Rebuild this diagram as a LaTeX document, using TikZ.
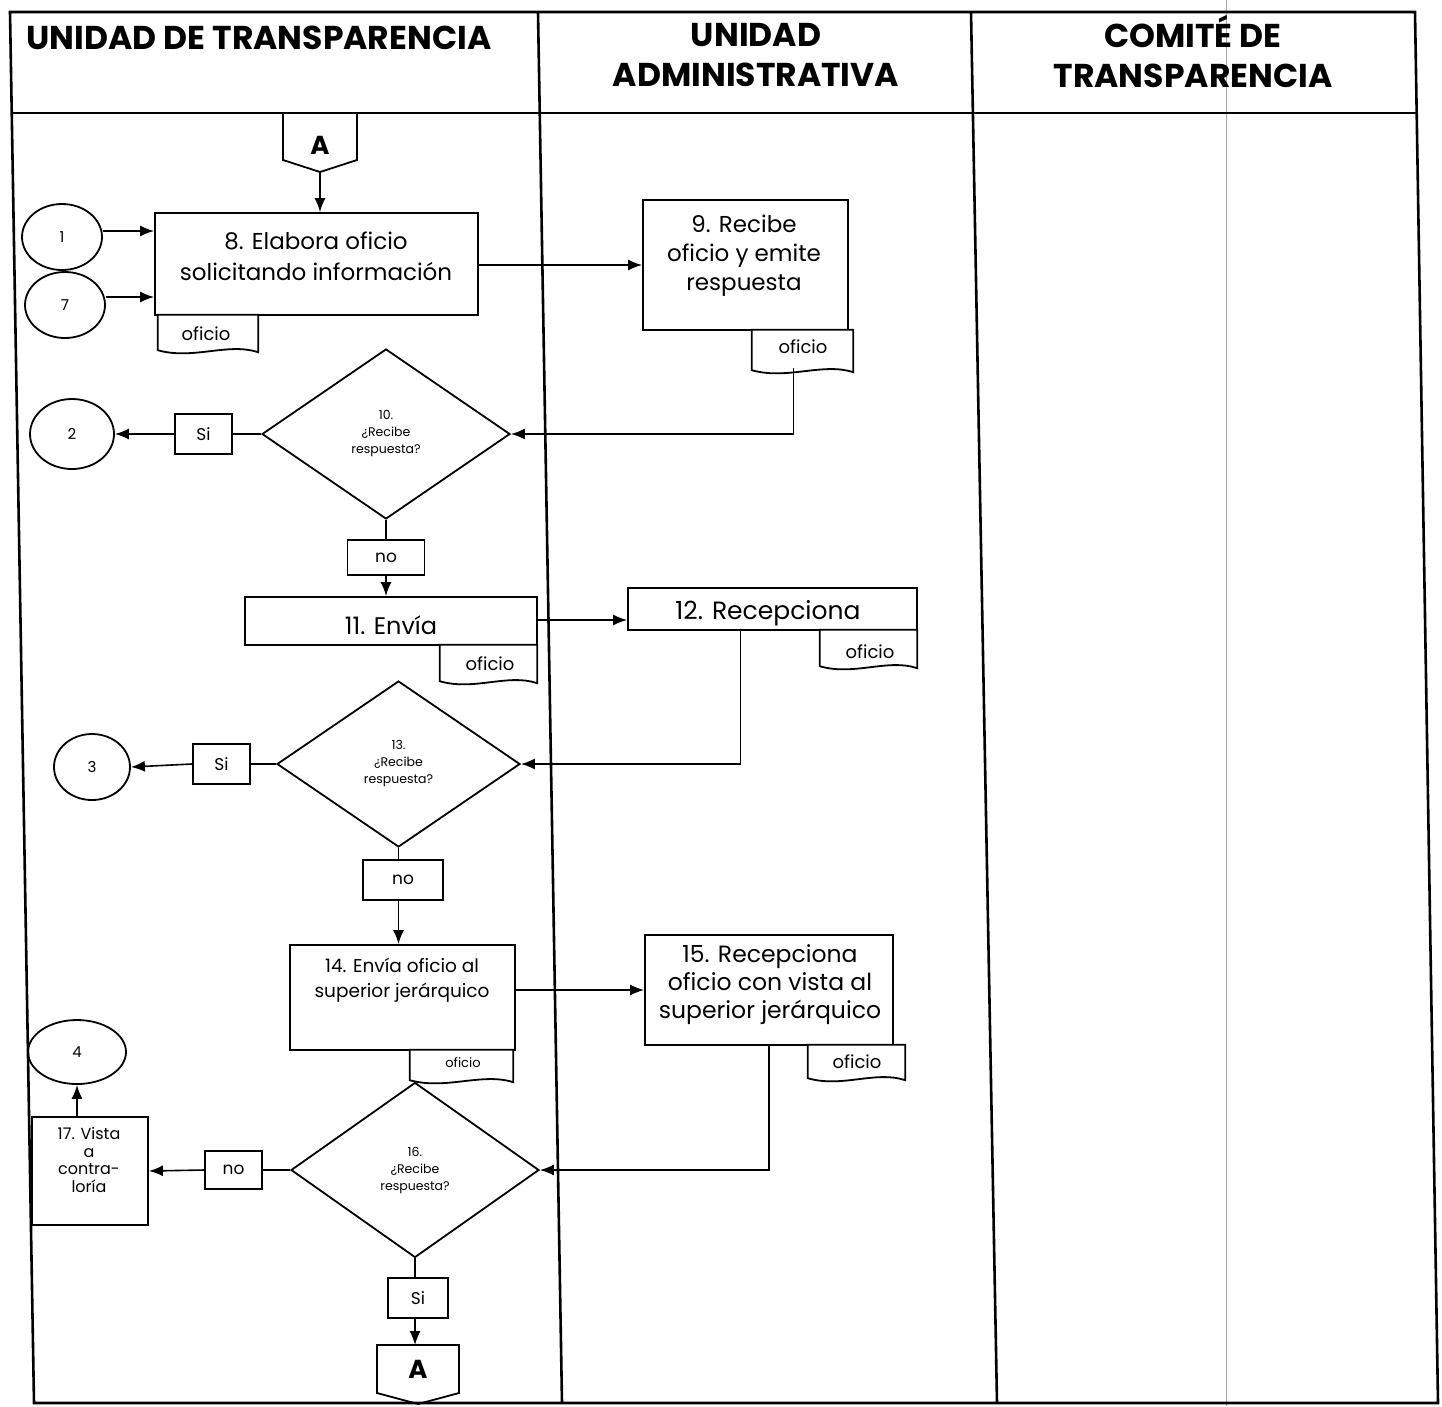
\documentclass[tikz,border=0pt]{standalone}
\usepackage{fontspec}
\setmainfont{Poppins}
\usetikzlibrary{arrows.meta,shapes.geometric,calc}

\begin{document}
\begin{tikzpicture}[x=1pt,y=-1pt,
  frame/.style={line width=2.6pt},
  box/.style={draw,line width=1.8pt,inner sep=0pt},
  txt/.style={inner sep=0pt,align=center,font=\fontsize{23}{29}\selectfont},
  small/.style={draw,line width=1.8pt,inner sep=0pt,font=\fontsize{17}{18}\selectfont},
  dec/.style={diamond,draw,line width=1.8pt,inner sep=0pt,align=center,font=\fontsize{12.5}{17}\selectfont},
  conn/.style={ellipse,draw,line width=1.8pt,inner sep=0pt,font=\fontsize{15}{16}\selectfont},
  docnode/.style={inner sep=0pt,font=\fontsize{18}{20}\selectfont},
  line/.style={line width=1.6pt},
  arr/.style={line width=1.6pt,-{Latex[length=14pt,width=11pt]}},
  head/.style={inner sep=0pt,align=center,font=\fontsize{33}{40}\selectfont\bfseries},
  offpage/.style={font=\fontsize{26}{28}\selectfont\bfseries}
]
\useasboundingbox (0,0) rectangle (1442,1406);
\fill[white] (0,0) rectangle (1442,1406);

% document symbol: a box with a wavy lower edge
\newcommand\docsym[2]{%
  \draw[line width=1.8pt,fill=white] (#1.north west) -- (#1.north east) -- (#1.south east)
    .. controls ($(#1.south east)+(-0.3*#2,-10)$) and ($(#1.south west)+(0.35*#2,8)$) .. ($(#1.south west)+(0,-2)$)
    -- cycle;}

% ---------------- swimlane frame ----------------
\draw[gray!70,line width=1pt] (1226,0) -- (1226,1406);
\draw[frame] (10,12) -- (1415,12) -- (1438,1403) -- (34,1403) -- cycle;
\draw[frame] (12,113) -- (1417,113);
\draw[frame] (538,12) -- (562,1403);
\draw[frame] (971,12) -- (997,1403);

\node[head] (h1) at (259,38) {UNIDAD DE TRANSPARENCIA};
\node[head] (h2) at (756,55) {UNIDAD\\ADMINISTRATIVA};
\node[head] (h3) at (1193,52) {COMITÉ DE\\TRANSPARENCIA};

% ---------------- off-page connector A (top) ----------------
\coordinate (atip) at (320,172);
\draw[line width=1.8pt] (283,113) -- (283,160) -- (atip) -- (357,160) -- (357,113);
\node[offpage] (atop) at (320,145) {A};

% ---------------- step 8 ----------------
\node[box,minimum width=323,minimum height=102] (b8) at (316.5,264) {};
\node[txt,font=\fontsize{23}{31}\selectfont] (t8) at (316,256) {8. Elabora oficio\\solicitando información};
\node[docnode,minimum width=100,minimum height=37] (d8) at (208,333.5) {};
\docsym{d8}{100}
\node[docnode] (o8) at (206,334) {oficio};
\draw[arr] (atip) -- (atip |- b8.north);

\node[conn,minimum width=80,minimum height=66] (c1) at (62,237) {1};
\node[conn,minimum width=80,minimum height=66] (c7) at (65,305) {7};
\draw[arr] (c1.east |- 0,231) -- (b8.west |- 0,231);
\draw[arr] (c7.east |- 0,297) -- (b8.west |- 0,297);

% ---------------- step 9 ----------------
\node[box,minimum width=205,minimum height=130] (b9) at (745.5,265) {};
\node[txt] (t9) at (744,256) {9. Recibe\\oficio y emite\\respuesta};
\node[docnode,minimum width=101,minimum height=42] (d9) at (802.5,351) {};
\docsym{d9}{101}
\node[docnode] (o9) at (803,347) {oficio};
\draw[arr] (b8.east |- 0,265) -- (b9.west |- 0,265);

% ---------------- decision 10 ----------------
\node[dec,minimum width=248,minimum height=170] (d10) at (386,434) {10.\\¿Recibe\\respuesta?};
\draw[arr] ($(d9.south)+(-9,-4)$) |- (d10.east);
\node[small,minimum width=57,minimum height=40] (si10) at (203.5,434) {Si};
\node[conn,minimum width=84,minimum height=70] (c2) at (72,434) {2};
\draw[line] (d10.west) -- (si10.east);
\draw[arr] (si10.west) -- (c2.east);
\node[small,minimum width=77,minimum height=35] (no10) at (386,557.5) {no};
\draw[line] (d10.south) -- (no10.north);

% ---------------- step 11 ----------------
\node[box,minimum width=292,minimum height=48] (b11) at (391,621) {};
\node[txt,font=\fontsize{24}{28}\selectfont] (t11) at (391,625) {11. Envía};
\node[docnode,minimum width=97,minimum height=38] (d11) at (488.5,664) {};
\docsym{d11}{97}
\node[docnode] (o11) at (490,664) {oficio};
\draw[arr] (no10.south) -- (no10.south |- b11.north);

% ---------------- step 12 ----------------
\node[box,minimum width=289,minimum height=42] (b12) at (772.5,609) {};
\node[txt,font=\fontsize{25}{28}\selectfont] (t12) at (768,613) {12. Recepciona};
\node[docnode,minimum width=97,minimum height=38] (d12) at (868.5,649) {};
\docsym{d12}{97}
\node[docnode] (o12) at (870,652) {oficio};
\draw[arr] (b11.east |- 0,620) -- (b12.west |- 0,620);

% ---------------- decision 13 ----------------
\node[dec,minimum width=243,minimum height=166] (d13) at (398.5,764) {13.\\¿Recibe\\respuesta?};
\draw[arr] ($(b12.south)+(-32,0)$) |- (d13.east);
\node[small,minimum width=57,minimum height=40] (si13) at (221.5,764) {Si};
\node[conn,minimum width=76,minimum height=66] (c3) at (92,767) {3};
\draw[line] (d13.west) -- (si13.east);
\draw[arr] (si13.west) -- (c3.east);
\node[small,minimum width=80,minimum height=40] (no13) at (403,880) {no};
\draw[line] (d13.south) -- (d13.south |- no13.north);

% ---------------- step 14 ----------------
\node[box,minimum width=225,minimum height=105] (b14) at (402.5,997.5) {};
\node[txt,font=\fontsize{18.5}{25}\selectfont] (t14) at (402,980) {14. Envía oficio al\\superior jerárquico};
\node[docnode,minimum width=103,minimum height=32] (d14) at (461.5,1066) {};
\docsym{d14}{103}
\node[docnode,font=\fontsize{13}{14}\selectfont] (o14) at (463,1063) {oficio};
\draw[arr] (d13.south |- no13.south) -- (d13.south |- b14.north);

% ---------------- step 15 ----------------
\node[box,minimum width=248,minimum height=110] (b15) at (769,990) {};
\node[txt,font=\fontsize{23.5}{28}\selectfont] (t15) at (770,985) {15. Recepciona\\oficio con vista al\\superior jerárquico};
\node[docnode,minimum width=97,minimum height=35] (d15) at (856.5,1062.5) {};
\docsym{d15}{97}
\node[docnode] (o15) at (857,1062) {oficio};
\draw[arr] (b14.east |- 0,990) -- (b15.west |- 0,990);

% ---------------- decision 16 ----------------
\node[dec,minimum width=248,minimum height=175] (d16) at (415,1170) {16.\\¿Recibe\\respuesta?};
\draw[arr] (b15.south) |- (d16.east);
\node[small,minimum width=57,minimum height=38] (no16) at (233.5,1170) {no};
\node[box,minimum width=116,minimum height=108] (b17) at (90,1171) {};
\node[txt,font=\fontsize{16}{17.5}\selectfont] (t17) at (89,1160) {17. Vista\\a\\contra-\\loría};
\draw[line] (d16.west) -- (no16.east);
\draw[arr] (no16.west) -- (b17.east);
\node[conn,minimum width=98,minimum height=64] (c4) at (77,1052) {4};
\draw[arr] (c4.south |- b17.north) -- (c4.south);

\node[small,minimum width=60,minimum height=40] (si16) at (418,1298) {Si};
\draw[line] (d16.south) -- (d16.south |- si16.north);

% ---------------- off-page connector A (bottom) ----------------
\coordinate (btip) at (418,1404);
\draw[line width=1.8pt] (377,1345) -- (377,1393) -- (btip) -- (459,1393) -- (459,1345) -- cycle;
\node[offpage] (abot) at (418,1369) {A};
\draw[arr] (d16.south |- si16.south) -- (d16.south |- 0,1345);
\end{tikzpicture}
\end{document}
